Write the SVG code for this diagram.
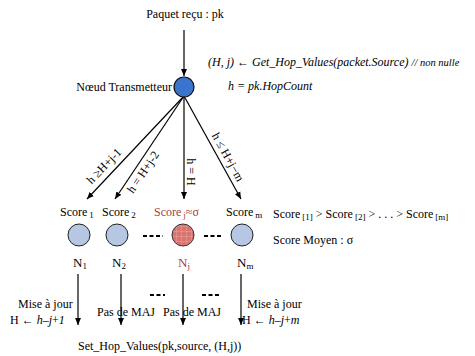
<svg xmlns="http://www.w3.org/2000/svg" width="475" height="356" viewBox="0 0 475 356" font-family="'Liberation Serif', 'Times New Roman', serif" font-size="12">
<defs>
<marker id="arr" markerWidth="8" markerHeight="8" refX="7" refY="4" orient="auto" markerUnits="userSpaceOnUse">
<path d="M0,1 L7,4 L0,7 Z" fill="#000"/>
</marker>
<pattern id="grid" width="5" height="5" patternUnits="userSpaceOnUse" x="1" y="1">
<rect width="5" height="5" fill="#da7470"/>
<path d="M0,0 H5 M0,0 V5" stroke="#eeaaa6" stroke-width="0.8"/>
</pattern>
</defs>
<style>
text{font-family:'Liberation Serif','Times New Roman',serif;font-size:12px;fill:#000}
.it{font-style:italic}
.red{fill:#a8403c}
.ln{stroke:#000;stroke-width:1.2;fill:none}
.arr{marker-end:url(#arr)}
.dash{stroke:#000;stroke-width:1.8;stroke-dasharray:4,2.5}
.leaf{fill:#b5c7e2;stroke:#222;stroke-width:1}
.sub{font-size:9px}
</style>
<rect width="475" height="356" fill="#fff"/>

<g id="connectors">
<line class="ln arr" x1="184" y1="30" x2="184" y2="76"/>
<line class="ln arr" x1="184" y1="96" x2="87" y2="199"/>
<line class="ln arr" x1="184" y1="96" x2="115" y2="199"/>
<line class="ln arr" x1="184" y1="96" x2="184" y2="199"/>
<line class="ln arr" x1="184" y1="96" x2="241" y2="199"/>
<line class="ln arr" x1="78" y1="274" x2="78" y2="325"/>
<line class="ln arr" x1="121" y1="274" x2="121" y2="325"/>
<line class="ln arr" x1="183" y1="274" x2="183" y2="325"/>
<line class="ln arr" x1="241" y1="274" x2="241" y2="325"/>
<line class="dash" x1="143" y1="236" x2="163" y2="236"/>
<line class="dash" x1="204" y1="236" x2="223" y2="236"/>
<line class="dash" x1="150" y1="295" x2="165" y2="295"/>
<line class="dash" x1="202" y1="295" x2="221" y2="295"/>
<text transform="translate(104,166) rotate(-46)" text-anchor="middle" dominant-baseline="central">h ≥H+j-1</text>
<text transform="translate(143,172) rotate(-55.7)" text-anchor="middle" dominant-baseline="central">h = H+j-2</text>
<text transform="translate(191,172) rotate(90)" text-anchor="middle" dominant-baseline="central">h = H</text>
<text transform="translate(228,157) rotate(61)" text-anchor="middle" dominant-baseline="central">h ≤ H+j−m</text>
</g>

<g id="header">
<text x="185" y="18" text-anchor="middle">Paquet reçu : pk</text>
<text x="208" y="66" class="it">(H, j) ← Get_Hop_Values(packet.Source) <tspan font-size="10.5">// non nulle</tspan></text>
<text x="228" y="90" class="it">h = pk.HopCount</text>
</g>

<g id="transmetteur">
<circle cx="184" cy="87" r="10" fill="#3a74cc" stroke="#111" stroke-width="1.2"/>
<text x="172" y="91" text-anchor="end">Nœud Transmetteur</text>
</g>

<g id="n1">
<text x="60" y="216">Score<tspan class="sub" dx="2" dy="2">1</tspan></text>
<circle class="leaf" cx="79" cy="235" r="11"/>
<text x="73" y="267" style="font-size:13px">N<tspan class="sub" dy="2">1</tspan></text>
</g>
<g id="n2">
<text x="102" y="216">Score<tspan class="sub" dx="2" dy="2">2</tspan></text>
<circle class="leaf" cx="117" cy="235" r="11"/>
<text x="112" y="267" style="font-size:13px">N<tspan class="sub" dy="2">2</tspan></text>
</g>
<g id="nj">
<text x="154" y="216" class="red">Score<tspan class="sub red" dx="2" dy="2">j</tspan><tspan dy="-2">≈σ</tspan></text>
<circle cx="183" cy="235" r="11" fill="url(#grid)" stroke="#333" stroke-width="1"/>
<text x="178" y="267" style="font-size:13px" class="red">N<tspan class="sub red" dy="2">j</tspan></text>
</g>
<g id="nm">
<text x="226" y="216">Score<tspan class="sub" dx="2" dy="2">m</tspan></text>
<circle class="leaf" cx="242" cy="235" r="11"/>
<text x="237" y="267" style="font-size:13px">N<tspan class="sub" dy="2">m</tspan></text>
</g>

<g id="legend">
<text x="273" y="218">Score<tspan class="sub" dx="2" dy="2">[1]</tspan><tspan dy="-2"> &gt; Score</tspan><tspan class="sub" dx="2" dy="2">[2]</tspan><tspan dy="-2"> &gt; . . . &gt; Score</tspan><tspan class="sub" dx="2" dy="2">[m]</tspan></text>
<text x="273" y="244">Score Moyen : σ</text>
</g>

<g id="updates">
<text x="18" y="308">Mise à jour</text>
<text x="10" y="324">H ← <tspan class="it">h–j</tspan>+<tspan class="it">1</tspan></text>
<text x="97" y="316">Pas de MAJ</text>
<text x="163" y="316">Pas de MAJ</text>
<text x="247" y="308">Mise à jour</text>
<text x="242" y="324">H ← <tspan class="it">h–j</tspan>+<tspan class="it">m</tspan></text>
</g>

<g id="footer">
<text x="78" y="350">Set_Hop_Values(pk,source, (H,j))</text>
</g>
</svg>
